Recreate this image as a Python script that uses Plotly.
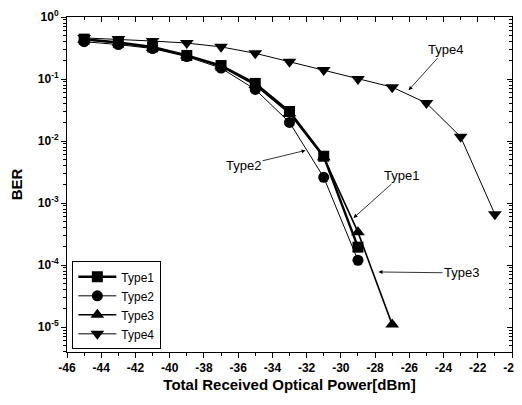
import plotly.graph_objects as go

# ---- data ----
power1 = [-45, -43, -41, -39, -37, -35, -33, -31, -29]
ber1 = [0.44, 0.39, 0.33, 0.24, 0.165, 0.085, 0.030, 0.0057, 1.95e-4]

power2 = [-45, -43, -41, -39, -37, -35, -33, -31, -29]
ber2 = [0.40, 0.36, 0.31, 0.23, 0.15, 0.068, 0.020, 0.0026, 1.2e-4]

power3 = [-45, -43, -41, -39, -37, -35, -33, -31, -29, -27]
ber3 = [0.43, 0.38, 0.32, 0.24, 0.16, 0.08, 0.028, 0.0055, 3.4e-4, 1.1e-5]

power4 = [-45, -43, -41, -39, -37, -35, -33, -31, -29, -27, -25, -23, -21]
ber4 = [0.46, 0.44, 0.41, 0.38, 0.33, 0.26, 0.19, 0.14, 0.10, 0.074, 0.041, 0.0117, 6.6e-4]

x_ticks = list(range(-46, -19, 2))
x_ticklabels = [str(v) for v in x_ticks]
y_ticks = [1, 1e-1, 1e-2, 1e-3, 1e-4, 1e-5]
y_ticklabels = ["10<sup>0</sup>", "10<sup>-1</sup>", "10<sup>-2</sup>",
                "10<sup>-3</sup>", "10<sup>-4</sup>", "10<sup>-5</sup>"]

series = [
    ("Type1", power1, ber1, "square", 2.4, 11),
    ("Type2", power2, ber2, "circle", 1.0, 11),
    ("Type3", power3, ber3, "triangle-up", 1.6, 12),
    ("Type4", power4, ber4, "triangle-down", 1.0, 12),
]

fig = go.Figure()
for name, xs, ys, sym, lw, ms in series:
    fig.add_trace(go.Scatter(
        x=xs, y=ys, name=name, mode="lines+markers",
        line=dict(color="black", width=lw),
        marker=dict(symbol=sym, size=ms, color="black"),
    ))

# overlay axes for inward ticks on top/right
fig.add_trace(go.Scatter(x=[], y=[], xaxis="x2", yaxis="y2", showlegend=False,
                         hoverinfo="skip"))

minor_y = []
for e in range(-6, 1):
    for m in range(2, 10):
        v = m * 10 ** e
        if 10 ** -5.4 <= v <= 1:
            minor_y.append(v)
minor_x = [v for v in range(-45, -20, 2)]

font = "Liberation Sans, Arial, sans-serif"
tickfont = dict(size=12, family=font, weight="bold", color="black")

# page has an 8px default body margin; figure sized to compensate
fig.update_layout(
    width=514, height=397,
    margin=dict(l=59, r=10, t=9, b=53),
    paper_bgcolor="white", plot_bgcolor="white",
    font=dict(family=font, color="black", size=12),
    showlegend=True,
    legend=dict(x=0.012, y=0.008, xanchor="left", yanchor="bottom",
                bordercolor="black", borderwidth=1, bgcolor="white",
                font=dict(size=12, family=font), tracegroupgap=0,
                itemwidth=38),
    xaxis=dict(range=[-46, -20], tickvals=x_ticks, ticktext=x_ticklabels,
               ticks="outside", ticklen=5, tickwidth=1, tickcolor="black",
               showline=True, linecolor="black", linewidth=1,
               showgrid=False, zeroline=False, automargin=False,
               ticklabeloverflow="allow",
               minor=dict(tickmode="array", tickvals=minor_x, ticks="outside", ticklen=3,
                          tickcolor="black", showgrid=False),
               title=dict(text="Total Received Optical Power[dBm]",
                          font=dict(size=15, weight="bold"), standoff=5),
               tickfont=tickfont),
    yaxis=dict(type="log", range=[-5.4, 0], tickvals=y_ticks, ticktext=y_ticklabels,
               ticks="outside", ticklen=5, tickwidth=1, tickcolor="black",
               showline=True, linecolor="black", linewidth=1,
               showgrid=False, zeroline=False, automargin=False,
               minor=dict(tickmode="array", tickvals=minor_y, ticks="outside", ticklen=3,
                          tickcolor="black", showgrid=False),
               title=dict(text="BER", font=dict(size=15, weight="bold"), standoff=26),
               tickfont=tickfont),
    xaxis2=dict(overlaying="x", side="top", range=[-46, -20], tickvals=x_ticks,
                showticklabels=False, ticks="inside", ticklen=5, tickcolor="black",
                showline=True, linecolor="black", linewidth=1, showgrid=False, zeroline=False,
                automargin=False,
                minor=dict(tickmode="array", tickvals=minor_x, ticks="inside", ticklen=3,
                           tickcolor="black", showgrid=False)),
    yaxis2=dict(overlaying="y", side="right", type="log", range=[-5.4, 0], tickvals=y_ticks,
                showticklabels=False, ticks="inside", ticklen=5, tickcolor="black",
                showline=True, linecolor="black", linewidth=1, showgrid=False, zeroline=False,
                automargin=False,
                minor=dict(tickmode="array", tickvals=minor_y, ticks="inside", ticklen=3,
                           tickcolor="black", showgrid=False)),
)

annots = [
    ("Type4", -26.04, -1.18, 37, -41),
    ("Type2", -32.06, -2.15, -62, 15),
    ("Type1", -29.26, -3.24, 48, -43),
    ("Type3", -27.8, -4.11, 83, 1),
]
for text, ax_x, ax_ylog, dx, dy in annots:
    fig.add_annotation(x=ax_x, y=ax_ylog, xref="x", yref="y", text=text,
                       showarrow=True, arrowhead=2, arrowsize=1, arrowwidth=0.8,
                       arrowcolor="black", ax=dx, ay=dy,
                       font=dict(size=13, family=font, color="black"))

fig.write_html("out.html")
